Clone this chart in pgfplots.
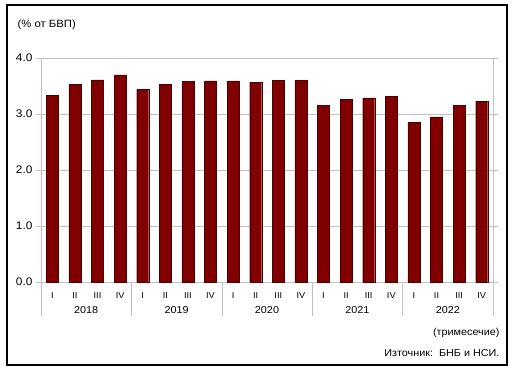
\documentclass[border=0pt]{standalone}
\usepackage{pgfplots}
\pgfplotsset{compat=1.18}
\usepackage{fontspec}
\setmainfont{Liberation Sans}[FakeStretch=1.08]
\definecolor{barred}{HTML}{800000}
\definecolor{baredge}{HTML}{4A0000}
\definecolor{gridgray}{HTML}{C0C0C0}
\begin{document}
\begin{tikzpicture}
\useasboundingbox (0pt,0pt) rectangle (512pt,369pt);
\draw[line width=2pt] (7pt,4pt) rectangle (507pt,364pt);
\node[anchor=west,font=\fontsize{10.5}{12}\selectfont] at (14pt,344pt) {(\% от БВП)};
\node[anchor=east,font=\fontsize{10}{11}\selectfont] at (503pt,36pt) {(тримесечие)};
\node[anchor=east,font=\fontsize{10}{11}\selectfont] at (503pt,16pt) {Източник:\ \ БНБ и НСИ.};
\begin{axis}[
  at={(41pt,87pt)}, anchor=south west,
  width=452pt, height=224pt, scale only axis,
  xmin=-0.5, xmax=19.5, ymin=0, ymax=4,
  ytick={0,1,2,3,4},
  yticklabel style={/pgf/number format/fixed,/pgf/number format/precision=1,/pgf/number format/fixed zerofill,font=\fontsize{11}{12}\selectfont},
  /pgf/number format/assume math mode=true,
  xtick={0,...,19},
  xticklabels={I,II,III,IV,I,II,III,IV,I,II,III,IV,I,II,III,IV,I,II,III,IV},
  xticklabel style={font=\fontsize{8.5}{9}\selectfont, yshift=-2.5pt},
  minor xtick={-0.5,0.5,...,19.5},
  tick align=outside,
  major tick length=5pt,
  minor tick length=18pt,
  xtick style={draw=none},
  ytick style={gridgray},
  minor x tick style={gridgray},
  ymajorgrids, grid style={gridgray},
  axis line style={gridgray},
  clip=false,
  ybar, bar width=12pt,
]
\addplot[fill=barred, draw=baredge, line width=0.4pt] coordinates {
(0,3.33) (1,3.53) (2,3.61) (3,3.70)
(4,3.44) (5,3.53) (6,3.58) (7,3.59)
(8,3.59) (9,3.57) (10,3.60) (11,3.60)
(12,3.16) (13,3.26) (14,3.29) (15,3.31)
(16,2.85) (17,2.95) (18,3.16) (19,3.23)
};
\pgfplotsinvokeforeach{-0.5,3.5,7.5,11.5,15.5,19.5}{
  \draw[gridgray] (axis cs:#1,0) -- ++(0pt,-34pt);
}
\node[font=\fontsize{10}{11}\selectfont] at ([yshift=-28pt]axis cs:1.5,0) {2018};
\node[font=\fontsize{10}{11}\selectfont] at ([yshift=-28pt]axis cs:5.5,0) {2019};
\node[font=\fontsize{10}{11}\selectfont] at ([yshift=-28pt]axis cs:9.5,0) {2020};
\node[font=\fontsize{10}{11}\selectfont] at ([yshift=-28pt]axis cs:13.5,0) {2021};
\node[font=\fontsize{10}{11}\selectfont] at ([yshift=-28pt]axis cs:17.5,0) {2022};
\end{axis}
\end{tikzpicture}
\end{document}
